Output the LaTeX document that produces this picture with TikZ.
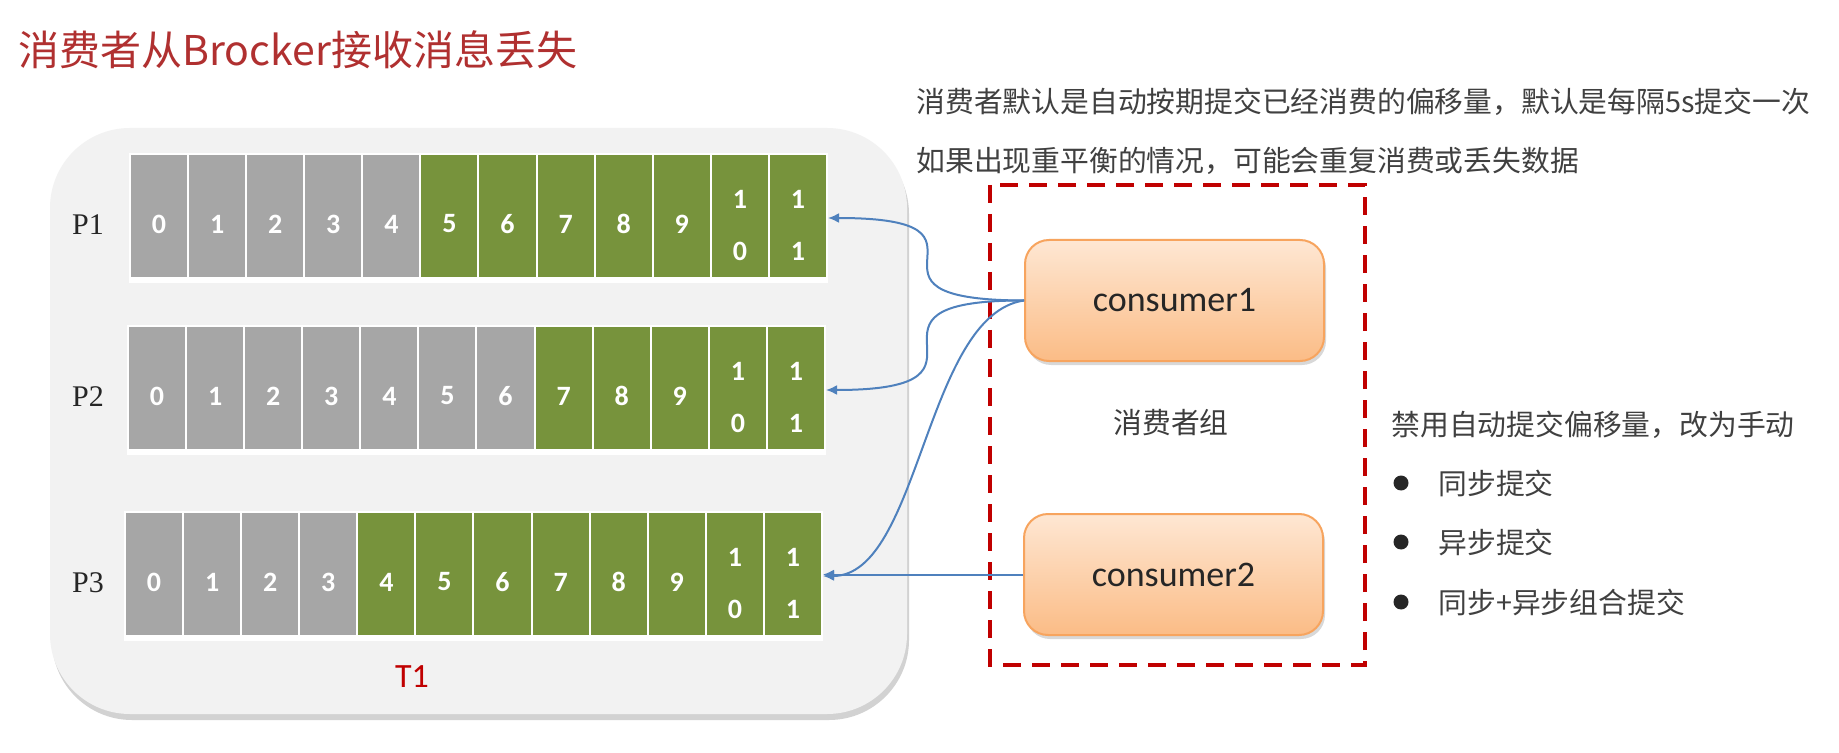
\documentclass[tikz,border=0pt]{standalone}
\usepackage{fontspec}
\newfontfamily\cjkfont{Noto Sans CJK SC}
\newfontfamily\calfont{Carlito}
\newfontfamily\serfont{Liberation Serif}
\usetikzlibrary{arrows.meta,shadows}
\definecolor{cgray}{HTML}{A6A6A6}
\definecolor{cgreen}{HTML}{77933C}
\definecolor{arrowblue}{HTML}{4F81BD}
\definecolor{dred}{HTML}{C00000}
\definecolor{titlered}{HTML}{B03030}
\definecolor{txtgray}{HTML}{404040}
\definecolor{txtdark}{HTML}{262626}
\definecolor{contgray}{HTML}{F2F2F2}
\definecolor{constop}{HTML}{FEE7D3}
\definecolor{consbot}{HTML}{FBBC86}
\definecolor{consborder}{HTML}{F7A45E}
\begin{document}
\begin{tikzpicture}[x=0.5pt,y=-0.5pt,
  rowbox/.style={fill=white,inner sep=0,outer sep=0,minimum width=349.5pt,minimum height=65pt},
  celltxt/.style={text=white,font=\calfont\bfseries\fontsize{14}{14}\selectfont,inner sep=0},
  plabel/.style={text=txtdark,font=\serfont\fontsize{15}{15}\selectfont,inner sep=0},
  cons/.style={draw=consborder,line width=1pt,rounded corners=12pt,minimum width=149.5pt,minimum height=60.5pt,
    top color=constop,bottom color=consbot,text=txtdark,font=\calfont\fontsize{18}{18}\selectfont,
    drop shadow={opacity=0.3,shadow xshift=1pt,shadow yshift=-2pt}},
  dashbox/.style={draw=dred,line width=2.2pt,dash pattern=on 9pt off 5.5pt},
  arr/.style={draw=arrowblue,line width=1pt,-{Latex[length=5.5pt,width=5pt]}},
  txt/.style={text=txtgray,font=\cjkfont\fontsize{14.4}{17}\selectfont,inner sep=0},
  bulletdot/.style={circle,fill=txtdark,minimum size=7.5pt,inner sep=0},
  titletxt/.style={text=titlered,font=\cjkfont\fontsize{20.5}{24}\selectfont,inner sep=0},
  t1txt/.style={text=dred,font=\calfont\fontsize{17}{17}\selectfont,inner sep=0}]
\useasboundingbox (0,0) rectangle (1839,753);
\fill[white] (0,0) rectangle (1839,753);
% title
\node[titletxt,anchor=west] (title) at (18,50) {消费者从Brocker接收消息丢失};
% container
\path[fill=contgray,rounded corners=40pt,drop shadow={opacity=0.35,shadow xshift=1pt,shadow yshift=-3pt,fill=black!50}] (50,128) rectangle (907,714);
% rows
\foreach \x/\t/\g/\n in {130/155/5/1,128/327/7/2,125/513/4/3} {
  \node[rowbox] (r\n) at (\x+348.5,\t+63) {};
  \node[plabel] (p\n) at (88,\t+70) {P\n};
  \foreach \i in {0,...,11} {
    \ifnum\i<\g\relax\def\cc{cgray}\else\def\cc{cgreen}\fi
    \fill[\cc] (\x+\i*58.08+1,\t) rectangle (\x+\i*58.08+57.08,\t+122);
    \ifnum\i<10\relax
      \node[celltxt] (d\n-\i) at (\x+\i*58.08+29.04,\t+69) {\i};
    \else
      \node[celltxt] (d\n-\i a) at (\x+\i*58.08+29.04,\t+44) {1};
      \node[celltxt] (d\n-\i b) at (\x+\i*58.08+29.04,\t+96) {\the\numexpr\i-10\relax};
    \fi
  }
}
\node[t1txt] (t1) at (412,677) {T1};
% consumer group
\draw[dashbox] (990,185) rectangle (1365,665);
\node[cons] (c1) at (1174.5,300.5) {consumer1};
\node[cons] (c2) at (1173.5,574.5) {consumer2};
\node[txt,text=txtdark!90] (grp) at (1171,423) {消费者组};
% arrows
\draw[arr] (c1.west) .. controls (828,300) and (1024,218) .. (r1.east);
\draw[arr] (c1.west) .. controls (828,300) and (1024,390) .. (r2.east);
\draw[arr] (c1.west) .. controls (925,315) and (920,576) .. (r3.east);
\draw[arr] (c2.west) -- (c2.west -| r3.east);
% notes
\node[txt,anchor=west] (n1) at (916,102) {消费者默认是自动按期提交已经消费的偏移量，默认是每隔5s提交一次};
\node[txt,anchor=west] (n2) at (916,161) {如果出现重平衡的情况，可能会重复消费或丢失数据};
\node[txt,anchor=west] (n3) at (1391,425) {禁用自动提交偏移量，改为手动};
\node[bulletdot] (b1) at (1401,483) {};
\node[bulletdot] (b2) at (1401,542) {};
\node[bulletdot] (b3) at (1401,602) {};
\node[txt,anchor=west] (i1) at (1438,483) {同步提交};
\node[txt,anchor=west] (i2) at (1438,542) {异步提交};
\node[txt,anchor=west] (i3) at (1438,602) {同步+异步组合提交};
\end{tikzpicture}
\end{document}
